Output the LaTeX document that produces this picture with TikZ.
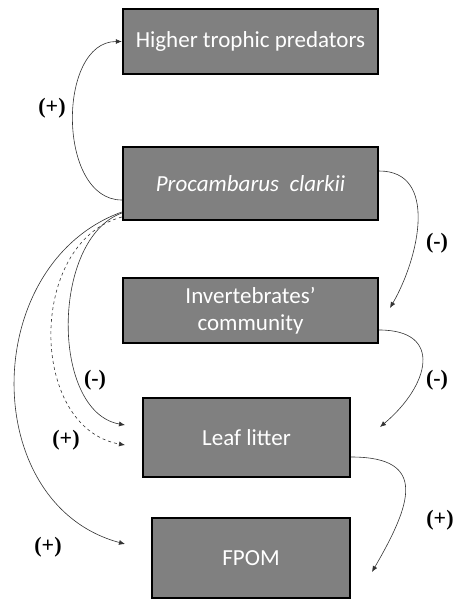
\documentclass[tikz,border=0pt]{standalone}
\usepackage{fontspec}
\setmainfont{Carlito}
\newfontfamily\signfont{Liberation Serif}
\usetikzlibrary{arrows.meta}

\begin{document}
\begin{tikzpicture}[
    x=1pt, y=-1pt,
    box/.style={
        draw=black,
        fill=black!50,
        line width=2.4pt,
        text=white,
        align=center,
        font=\fontsize{23}{27}\selectfont,
        inner sep=0pt
    },
    wide/.style={box, minimum width=255pt, minimum height=65pt},
    sign/.style={font=\fontsize{22}{24}\signfont\bfseries, inner sep=0pt},
    link/.style={-{Latex[length=6pt, width=5pt]}, line width=0.6pt, color=black!80},
    dashlink/.style={link, dashed}
]

% frame of the picture
\useasboundingbox (0,0) rectangle (455,600);

% Boxes of the food web
\node[wide] (predators) at (250.5,41.5) {Higher trophic predators};
\node[wide, minimum height=73pt] (crayfish) at (250.5,183.5) {\itshape Procambarus\ \ clarkii};
\node[wide] (invertebrates) at (250.5,310.5) {Invertebrates'\\community};
\node[box, minimum width=207pt, minimum height=79pt] (litter) at (246.5,437.5) {Leaf litter};
\node[box, minimum width=198pt, minimum height=80pt] (fpom) at (251,558) {FPOM};

% Free ends of the arrows
\coordinate (invIn) at (390,308);
\coordinate (litIn) at (380,427);
\coordinate (litLeftA) at (125,425);
\coordinate (litLeftB) at (125,445);
\coordinate (fpomLeft) at (125,544);
\coordinate (fpomIn) at (372,572);

% Effects
\draw[link] ([yshift=-16.5pt]crayfish.west) to[out=180, in=180, looseness=1.05] (predators.west);
\draw[link] ([yshift=12.5pt]crayfish.east) to[out=0, in=60, looseness=1.1] (invIn);
\draw[link] ([yshift=-19.5pt]invertebrates.east) to[out=0, in=40, looseness=1.7] (litIn);
\draw[link] ([yshift=-19.5pt]litter.east) to[out=0, in=60, looseness=1.7] (fpomIn);

\draw[link] ([yshift=-29.5pt]crayfish.west) to[out=200, in=170, looseness=0.91] (litLeftA);
\draw[dashlink] ([yshift=-33.5pt]crayfish.west) to[out=195, in=170, looseness=1.1] (litLeftB);
\draw[link] ([yshift=-28.5pt]crayfish.west) to[out=200, in=165, looseness=1.17] (fpomLeft);

% Signs
\node[sign] (s1) at (52,108) {(+)};
\node[sign] (s2) at (437,243) {(-)};
\node[sign] (s3) at (437,380) {(-)};
\node[sign] (s4) at (440,520) {(+)};
\node[sign] (s5) at (95,380) {(-)};
\node[sign] (s6) at (66,440) {(+)};
\node[sign] (s7) at (48,547) {(+)};

\end{tikzpicture}
\end{document}
